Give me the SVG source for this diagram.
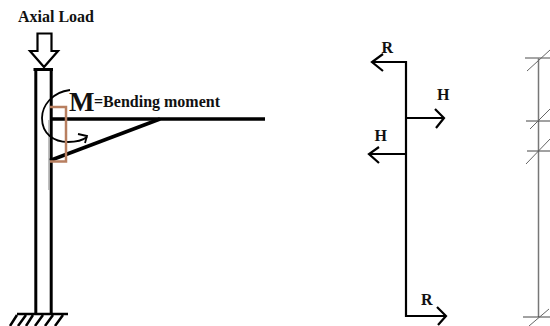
<svg xmlns="http://www.w3.org/2000/svg" width="550" height="326" viewBox="0 0 550 326">
<style>
text{font-family:"Liberation Serif",serif;font-weight:bold;fill:#111}
.k{fill:none;stroke:#000;stroke-linecap:butt;stroke-linejoin:miter}
.g{fill:none;stroke:#777}
.t{fill:none;stroke:#666;stroke-width:1}
</style>
<rect width="550" height="326" fill="#fff"/>
<g id="axial-load"><text x="18" y="22" font-size="16">Axial Load</text>
<path class="k" stroke-width="2.200" d="M37.500 33.500H51.500V51H58L44 67L30 51H37.500Z"/></g>
<g id="column">
<path class="k" stroke-width="3" d="M35.800 68V313"/>
<path class="k" stroke-width="3" d="M51.200 68V313"/>
<path fill="none" stroke="#aaa" stroke-width="1.500" d="M49 120V190"/>
<path class="k" stroke-width="3" d="M33.500 69.500H53"/>
</g>
<g id="ground"><path class="k" stroke-width="2.500" d="M17 314H68"/>
<path class="k" stroke-width="2.500" d="M10 326L17 315M18 326L26 315M26 326L33 315M35 326L43 315M45 326L53 315M55 326L63 315"/></g>
<g id="beam"><path class="k" stroke-width="3.500" d="M50 119H265"/>
<path class="k" stroke-width="3.500" d="M50 160.500L160 119"/></g>
<g id="moment"><path class="k" stroke-width="1.800" d="M70 90C52 92 42 106 42 118C42 134 54 142 68 142C76 142 82 141 87 137"/>
<path class="k" stroke-width="1.800" d="M78 134L87 136L85 143"/>
<text x="69" y="111" font-size="27">M</text>
<text x="94" y="107" font-size="16">=Bending moment</text></g>
<g id="highlight"><path fill="none" stroke="#b87f60" stroke-width="2.500" d="M50 107H66V161.500H50"/></g>
<g id="reactions">
<path class="k" stroke-width="2.200" d="M406 61V316H445M406 62H372M406 118H444M406 154H370"/>
<path class="k" stroke-width="2.200" d="M383 54L372 62L383 71M435 109L444 118L436 128M379 147L369 154L379 163M437 307L446 316L438 325"/>
<text x="381.500" y="53" font-size="16">R</text>
<text x="437" y="100" font-size="16">H</text>
<text x="374.500" y="141" font-size="16">H</text>
<text x="421" y="305" font-size="16">R</text></g>
<g id="shear"><path class="g" stroke-width="1.500" d="M538.500 58V317"/>
<path fill="none" stroke="#888" stroke-width="1.500" d="M525 58H550"/>
<path class="t" style="stroke:#444" d="M526 121H550M527 151H550M523 317H550"/>
<path class="t" d="M527 71L550 50M530 129L550 109M526 164L550 139M529 326L549 309"/></g>
</svg>
